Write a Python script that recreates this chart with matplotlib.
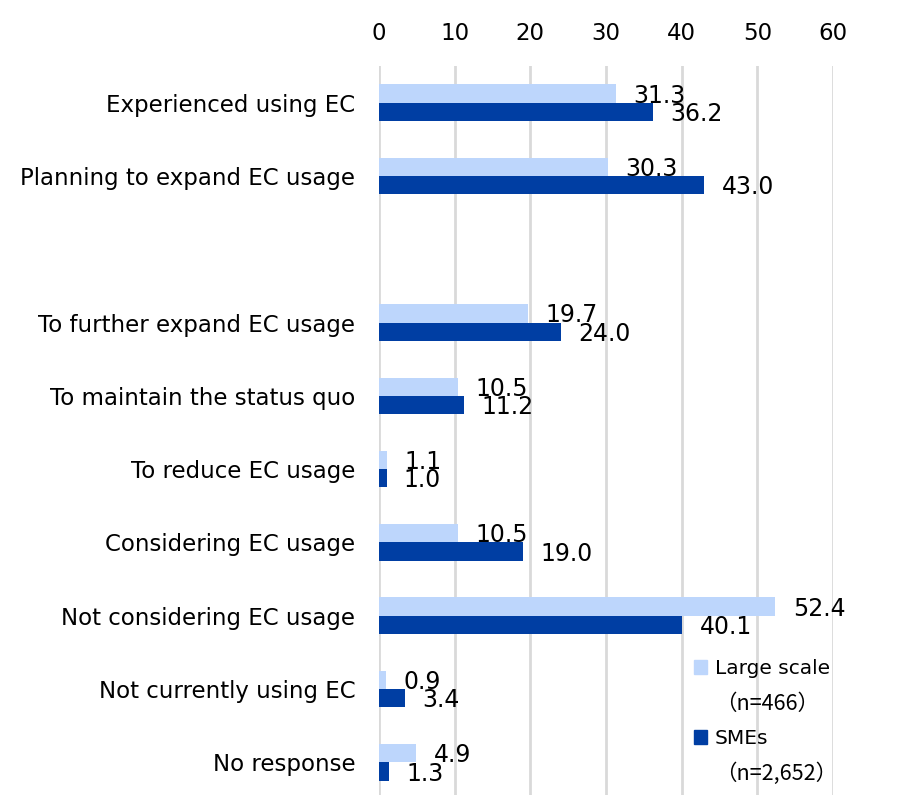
import matplotlib.pyplot as plt
import matplotlib.patches as mpatches
import numpy as np

plt.rcParams['font.family'] = ['DejaVu Sans', 'Noto Sans CJK JP']

# survey items, top to bottom ('' is a spacer row between the two groups)
categories = ['Experienced using EC', 'Planning to expand EC usage', '',
              'To further expand EC usage', 'To maintain the status quo',
              'To reduce EC usage', 'Considering EC usage',
              'Not considering EC usage', 'Not currently using EC', 'No response']
large_scale = [31.3, 30.3, None, 19.7, 10.5, 1.1, 10.5, 52.4, 0.9, 4.9]
smes = [36.2, 43.0, None, 24.0, 11.2, 1.0, 19.0, 40.1, 3.4, 1.3]
series_names = ['Large scale', 'SMEs']
series_notes = ['（n=466）', '（n=2,652）']
xticks = [0, 10, 20, 30, 40, 50, 60]

light = '#BDD6FC'
dark = '#003EA3'

fig = plt.figure(figsize=(9.08, 7.95), dpi=100)
ax = fig.add_axes([379 / 908, -4 / 795, (833 - 379) / 908, 733 / 795])

y = np.arange(len(categories))
h = 0.25
for i, (a, b) in enumerate(zip(large_scale, smes)):
    if a is None:
        continue
    ax.barh(i - h / 2, a, height=h, color=light, zorder=3)
    ax.barh(i + h / 2, b, height=h, color=dark, zorder=3)
    ax.annotate('%.1f' % a, (a, i - h / 2), xytext=(12.5, -1.5), textcoords='offset points',
                ha='left', va='center', fontsize=17, zorder=4)
    ax.annotate('%.1f' % b, (b, i + h / 2), xytext=(12.5, -1.5), textcoords='offset points',
                ha='left', va='center', fontsize=17, zorder=4)

ax.set_xlim(0, 60)
ax.set_ylim(len(categories) - 0.5, -0.5)
ax.set_yticks(y)
ax.set_yticklabels(categories, fontsize=16.5)
ax.set_xticks(xticks)
ax.xaxis.tick_top()
ax.tick_params(axis='x', length=0, labelsize=16.5, pad=15)
ax.tick_params(axis='y', length=0, pad=17)
ax.grid(axis='x', color='#D9D9D9', linewidth=2, zorder=0)
for s in ax.spines.values():
    s.set_visible(False)

# legend: coloured square with the name, sample size on its own line
handles = [mpatches.Rectangle((0, 0), 1, 1, color=light),
           mpatches.Rectangle((0, 0), 1, 1, color='none'),
           mpatches.Rectangle((0, 0), 1, 1, color=dark),
           mpatches.Rectangle((0, 0), 1, 1, color='none')]
labels = [series_names[0], series_notes[0], series_names[1], series_notes[1]]
leg = ax.legend(handles, labels, loc='lower right', bbox_to_anchor=(1.049, -0.006), frameon=False,
                fontsize=14.5, handlelength=0.65, handleheight=0.65, handletextpad=0.4,
                labelspacing=0.72)
for t in leg.get_texts()[1::2]:
    t.set_family(['Noto Sans CJK JP', 'DejaVu Sans'])
    t.set_fontsize(15.5)

fig.savefig('out.png', dpi=100)
